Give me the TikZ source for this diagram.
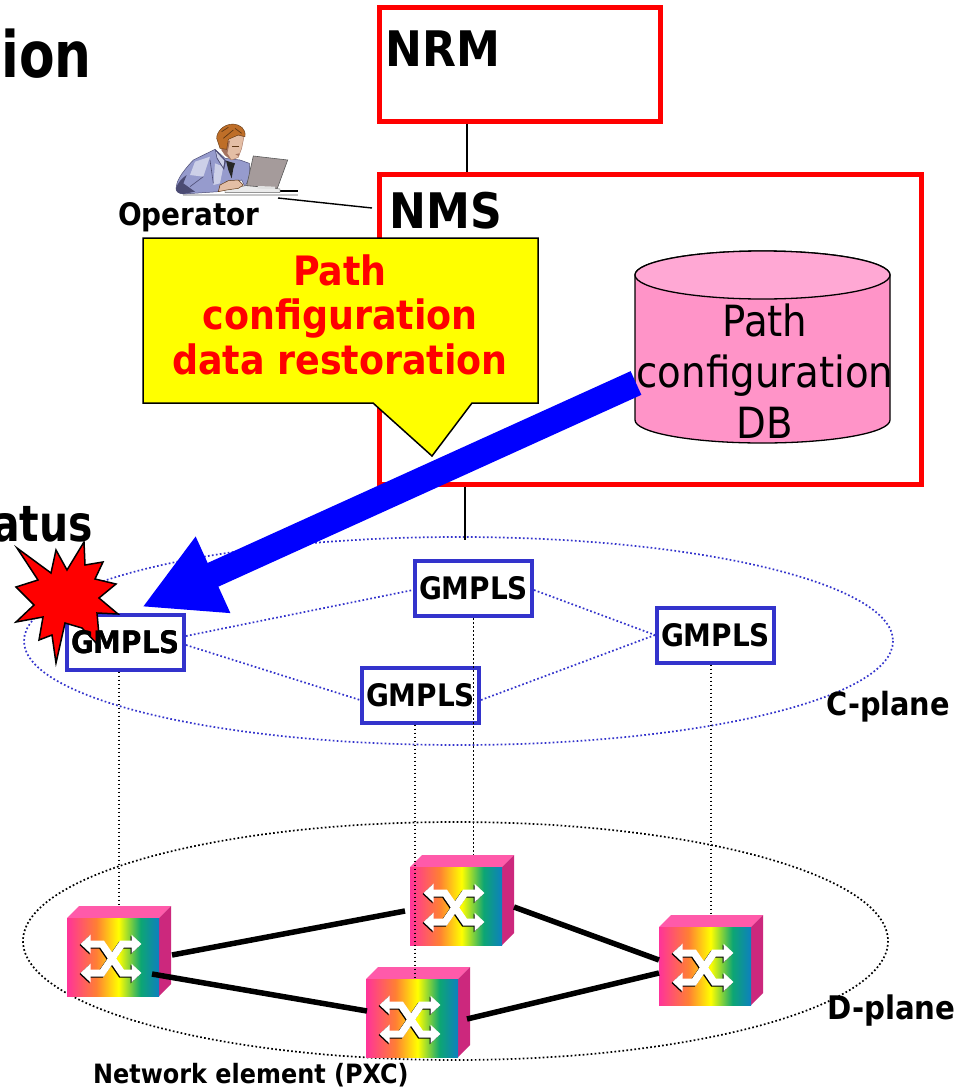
\documentclass[tikz,border=0pt]{standalone}
\usepackage{fontspec}
\setmainfont{DejaVu Sans Condensed}
\usetikzlibrary{arrows.meta,shapes.geometric,calc}
\definecolor{nred}{RGB}{255,0,0}
\definecolor{gblue}{RGB}{51,51,204}
\definecolor{pureblue}{RGB}{0,0,255}
\definecolor{yy}{RGB}{255,255,0}
\definecolor{cylpink}{RGB}{255,148,200}
\definecolor{cyltop}{RGB}{255,168,212}
\definecolor{toppink}{RGB}{255,90,170}
\definecolor{sidepink}{RGB}{204,40,125}
\definecolor{shirt}{RGB}{150,155,205}
\definecolor{shirtd}{RGB}{75,75,115}
\definecolor{shirtl}{RGB}{205,208,232}
\definecolor{skin}{RGB}{228,190,165}
\definecolor{skind}{RGB}{165,115,95}
\definecolor{hair}{RGB}{190,110,40}
\definecolor{haird}{RGB}{95,55,20}
\definecolor{lap}{RGB}{165,155,155}
\pgfdeclarehorizontalshading{rainbow}{100bp}{
  rgb(0bp)=(1,.2,.6); rgb(25bp)=(1,.2,.6); rgb(41bp)=(1,.5,.2); rgb(53bp)=(1,1,0);
  rgb(65bp)=(.05,.65,.45); rgb(75bp)=(.05,.5,.75); rgb(100bp)=(.05,.5,.75)}
\newcommand{\fsz}[1]{\fontsize{#1}{#1}\selectfont}
\tikzset{
  x=1pt,y=-1pt,
  redbox/.style={draw=nred,line width=5pt,fill=white,rectangle,inner sep=0pt,minimum width=#1},
  gbox/.style={draw=gblue,line width=4pt,fill=white,rectangle,inner sep=0pt,minimum width=117pt,minimum height=55pt,
     font=\bfseries\fsz{31},text=black},
  bluedot/.style={gblue,line width=1.7pt,dash pattern=on 1.7pt off 2.3pt},
  blackdot/.style={black,line width=1.7pt,dash pattern=on 1.7pt off 2.3pt},
  heavylink/.style={black,line width=5.5pt},
  plainlink/.style={black,line width=1.4pt},
  lab/.style={font=\bfseries\fsz{#1},text=black,inner sep=0pt,anchor=base west},
  ringnode/.style={ellipse,inner sep=0pt,draw=none},
  pxcnode/.style={rectangle,minimum width=104pt,minimum height=90pt,inner sep=0pt,outer sep=0pt,draw=none},
  xarrow/.style={line width=7pt,miter limit=10,{Triangle[length=10pt,width=18pt]}-{Triangle[length=10pt,width=18pt]}},
}
\newcommand{\pxc}[3]{%
  \begin{scope}[shift={(#2,#3)}]
    \node[pxcnode] (#1) at (52,33) {};
    \fill[toppink] (0,0) -- (12,-12) -- (104,-12) -- (92,0) -- cycle;
    \fill[sidepink] (92,0) -- (104,-12) -- (104,66) -- (92,78) -- cycle;
    \shade[shading=rainbow] (0,0) rectangle (92,78);
    \foreach \c/\o in {black/1,white/0}{
      \begin{scope}[shift={(-\o,\o)}]
      \draw[\c,xarrow] (13.5,26) -- (35,26) -- (55,55) -- (74.5,55);
      \draw[\c,xarrow] (13.5,55) -- (35,55) -- (55,26) -- (74.5,26);
      \end{scope}}
  \end{scope}}
\begin{document}
\begin{tikzpicture}
\useasboundingbox (0,0) rectangle (962,1090);
\fill[white] (0,0) rectangle (962,1090);

% titles clipped at page edge
\begin{scope}
\clip (0,0) rectangle (962,1090);
\node[lab=64,anchor=base east] (ttlA) at (92,77) {\scalebox{.9}[1]{ion}};
\node[lab=50,anchor=base east] (ttlB) at (93,541) {\scalebox{.91}[1]{atus}};
\end{scope}

% boxes
\node[redbox=281pt,minimum height=114pt] (nrm) at (519.5,64) {};
\node[lab=49] (nrmt) at (385,66) {NRM};
\node[redbox=542pt,minimum height=310pt] (nms) at (650,329) {};
\node[lab=49] (nmst) at (389,228) {NMS};

% planes
\node[ringnode,minimum width=869pt,minimum height=208pt] (cplane) at (458.5,641) {};
\draw[bluedot] (cplane.center) ellipse [x radius=434.5,y radius=104];
\node[ringnode,minimum width=865pt,minimum height=238pt] (dplane) at (455.5,941) {};
\draw[blackdot] (dplane.center) ellipse [x radius=432.5,y radius=119];

% PXC
\pxc{p1}{67}{918}
\pxc{p2}{410}{867}
\pxc{p3}{659}{927}
\pxc{p4}{366}{979}

% thick links
\draw[heavylink] ([shift={(53,4)}]p1.center) -- ([shift={(-57,11)}]p2.center);
\draw[heavylink] ([shift={(33,23)}]p1.center) -- ([shift={(-51,-1)}]p4.center);
\draw[heavylink] ([shift={(52,7)}]p2.center) -- ([shift={(-52,0)}]p3.center);
\draw[heavylink] ([shift={(49,7)}]p4.center) -- ([shift={(-52,13)}]p3.center);

% GMPLS
\node[gbox] (g1) at (125.5,642) {GMPLS};
\node[gbox] (g2) at (473.5,588.5) {GMPLS};
\node[gbox] (g3) at (715.5,635) {GMPLS};
\node[gbox] (g4) at (420.5,695) {GMPLS};

\draw[bluedot] (g1.east |- 0,636) -- (g2.west |- 0,590);
\draw[bluedot] (g1.east |- 0,645) -- (g4.west |- 0,700);
\draw[bluedot] (g2.east |- 0,590) -- (g3.west);
\draw[bluedot] (g4.east |- 0,700) -- (g3.west);

\draw[blackdot] ([xshift=-6.5pt]g1.south) -- (p1.north -| 119,0);
\draw[blackdot] (g2.south) -- (p2.north -| 473.5,0);
\draw[blackdot] ([xshift=-4.5pt]g3.south) -- (p3.north -| 711,0);
\draw[blackdot] ([xshift=-5.5pt]g4.south) -- ([yshift=-10pt]p4.north -| 415,0);

% plain links
\coordinate (opend) at (278,198);
\draw[plainlink] (nrm.south -| 467,0) -- (nms.north -| 467,0);
\draw[plainlink] (nms.south -| 465,0) -- (465,540);
\draw[plainlink] (opend) -- (372,208);

% operator clipart
\begin{scope}[shift={(170,120)},scale=1/3]
\fill[black!22] (40,222) -- (385,222) -- (385,228) -- (40,228) -- cycle;
\fill[black] (200,209) rectangle (385,216);
\path[fill=shirt,draw=shirtd,line width=.5pt] (18,205) .. controls (20,185) and (28,165) .. (70,120) -- (135,88) -- (165,115) -- (210,120) -- (238,130) -- (240,170) -- (225,200) -- (215,180) -- (175,190) -- (145,215) -- (40,222) .. controls (25,220) and (18,215) .. (18,205) -- cycle;
\fill[shirtd] (18,205) .. controls (22,190) and (35,175) .. (50,165) -- (40,190) -- (75,215) -- (40,222) .. controls (25,220) and (18,215) .. (18,205) -- cycle;
\fill[shirtl] (75,125) -- (120,110) -- (100,170) -- (60,165) -- cycle;
\fill[shirtl] (135,130) -- (160,140) -- (150,190) -- (130,195) -- cycle;
\fill[shirtd] (135,88) -- (140,115) -- (162,150) -- (168,122) -- cycle;
\fill[shirtl] (138,95) -- (142,113) -- (160,142) -- (163,122) -- cycle;
\fill[black!85] (168,122) -- (195,130) -- (190,145) -- (185,175) -- (175,150) -- cycle;
\draw[shirtd,line width=.6pt] (100,170) -- (60,200);
\draw[shirtd,line width=.6pt] (120,120) -- (130,190);
\fill[black!8,draw=black!60,line width=.4pt] (165,208) -- (240,195) -- (330,207) -- (330,218) -- (165,218) -- cycle;
\path[fill=skin,draw=haird,line width=.5pt] (145,215) -- (150,195) -- (175,182) -- (205,180) -- (220,195) -- (205,205) -- (170,210) -- cycle;
\path[fill=skin,draw=skind,line width=.4pt] (160,60) -- (205,45) -- (222,50) -- (215,85) -- (205,112) -- (185,120) -- (165,105) -- (155,90) -- cycle;
\fill[skind] (165,65) -- (180,62) -- (172,100) -- (183,118) -- (165,105) -- (155,90) -- cycle;
\fill[haird] (185,78) rectangle (207,81);
\fill[skind] (196,103) -- (208,100) -- (206,108) -- cycle;
\fill[black] (146,62) -- (153,62) -- (155,78) -- (150,78) -- cycle;
\path[fill=hair,draw=haird,line width=.4pt] (140,55) .. controls (140,35) and (160,12) .. (190,12) .. controls (210,14) and (228,25) .. (225,50) -- (205,45) -- (175,58) -- (170,88) -- (150,85) -- cycle;
\draw[haird,line width=.7pt] (155,35) -- (175,22) (160,55) -- (190,30) (195,25) -- (215,40);
\path[fill=lap,draw=black!65,line width=.6pt] (250,108) -- (353,120) -- (322,205) -- (230,197) -- cycle;
\fill[black!12] (265,198) -- (315,200) -- (315,207) -- (262,206) -- cycle;
\end{scope}
\node[lab=31] (optxt) at (118,225) {Operator};

% callout
\node[draw=none,inner sep=0pt,outer sep=0pt,minimum width=395pt,minimum height=165pt] (call) at (340.5,320.5) {};
\coordinate (calltip) at (432,456);
\draw[fill=yy,draw=black,line width=1.5pt] (call.north west) -- (call.north east) -- (call.south east) -- (472,403) -- (calltip) -- (373,403) -- (call.south west) -- cycle;
\node[align=center,text=nred,font=\bfseries\fontsize{40.5}{44.5}\selectfont,inner sep=0pt,anchor=base] (calltext) at (340,374) {Path\\configuration\\data restoration};

% cylinder
\node[inner sep=0pt,outer sep=0pt,minimum width=255pt,minimum height=192pt] (db) at (762.5,347) {};
\path[fill=cylpink,draw=black,line width=1.3pt] (635,275) arc[start angle=180,end angle=360,x radius=127.5,y radius=24] -- (890,420) arc[start angle=0,end angle=180,x radius=127.5,y radius=23] -- cycle;
\path[fill=cyltop,draw=black,line width=1.3pt] (762.5,275) ellipse[x radius=127.5,y radius=24];
\node[align=center,font=\fontsize{43}{51}\selectfont,inner sep=0pt,text=black,anchor=base] (dbt) at (765,438) {Path\\configuration\\DB};

% blue arrow
\coordinate (hit) at (142,607);
\draw[pureblue,line width=26pt,-{Triangle[length=78pt,width=78pt]}] (636,383) -- (hit);

% burst
\node[inner sep=0pt,minimum size=1pt] (burst) at (67,600) {};
\draw[fill=nred,draw=black,line width=1.5pt] (17,548) -- (51,573) -- (56,550) -- (67,570) -- (84,542) -- (85,565) -- (103,562) -- (95,579) -- (116,584) -- (99,598) -- (118,614) -- (97,613) -- (100,647) -- (82,628) -- (65,623) -- (56,663) -- (52,635) -- (39,640) -- (43,617) -- (16,622) -- (34,605) -- (16,587) -- (38,580) -- cycle;
\node[font=\bfseries\fsz{31},text=black,inner sep=0pt] (g1t) at (125.5,642) {GMPLS};

% labels
\node[lab=32] (cpl) at (826,715) {C-plane};
\node[lab=32.5] (dpl) at (827,1019) {D-plane};
\node[lab=26.6] (nel) at (93,1083) {Network element (PXC)};
\end{tikzpicture}
\end{document}
